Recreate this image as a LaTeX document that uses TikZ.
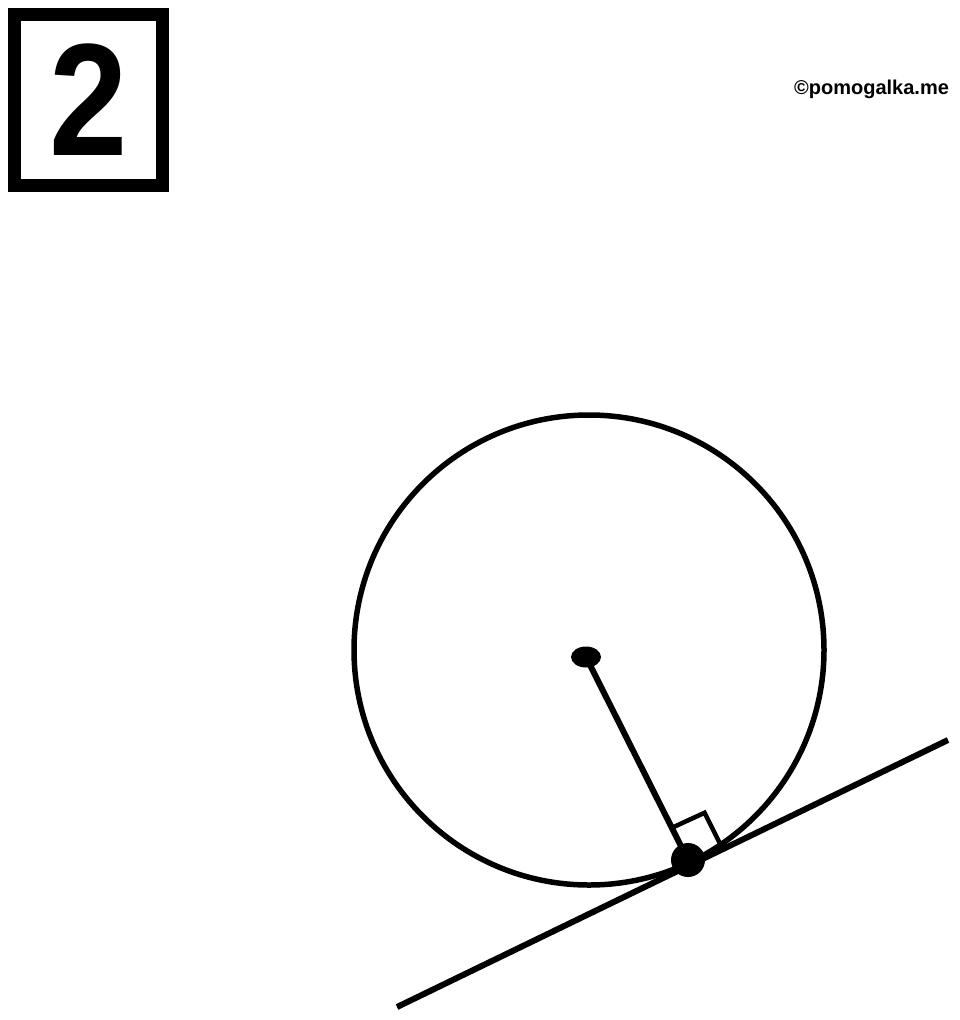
\documentclass[tikz,border=0pt]{standalone}
\usepackage{fontspec}
\setmainfont{Liberation Sans}
\usetikzlibrary{calc,shapes.geometric}

\begin{document}
\begin{tikzpicture}[x=1pt, y=-1pt,
                      thickline/.style={draw=black, line width=5.5pt},
                      blob/.style={fill=black, draw=none, inner sep=0pt}]
  \useasboundingbox (0,0) rectangle (960,1020);
  % task number in a frame
  \node[draw, line width=13pt, minimum width=148pt, minimum height=171pt,
        inner sep=0pt, font=\fontsize{160}{160}\selectfont\bfseries] (num) at (88.75,99.5) {\scalebox{0.88}[1]{2}};
  \node[font=\fontsize{20}{20}\selectfont\bfseries, inner sep=0pt] (mark) at (871.5,89) {©pomogalka.me};
  % circle with centre and point of tangency
  \coordinate (C) at (589,650);
  \draw[thickline] (C) circle[radius=235];
  \node[blob, ellipse, minimum width=30pt, minimum height=21pt] (O) at (586,657) {};
  \node[blob, circle, minimum size=34pt] (T) at (688,860) {};
  \coordinate (A) at (397,1007);
  \coordinate (B) at (948,740);
  \draw[thickline, line width=6pt] (O.center) -- (T.center);
  \draw[thickline, line width=6pt] (A) -- (B);
  % right angle mark
  \coordinate (R1) at ($(T.center)!36pt!(O.center)$);
  \coordinate (R2) at ($(T.center)!36pt!(B)$);
  \draw[thickline, line width=4.5pt] (R1) -- ($(R1)+(R2)-(T.center)$) -- (R2);
\end{tikzpicture}
\end{document}
